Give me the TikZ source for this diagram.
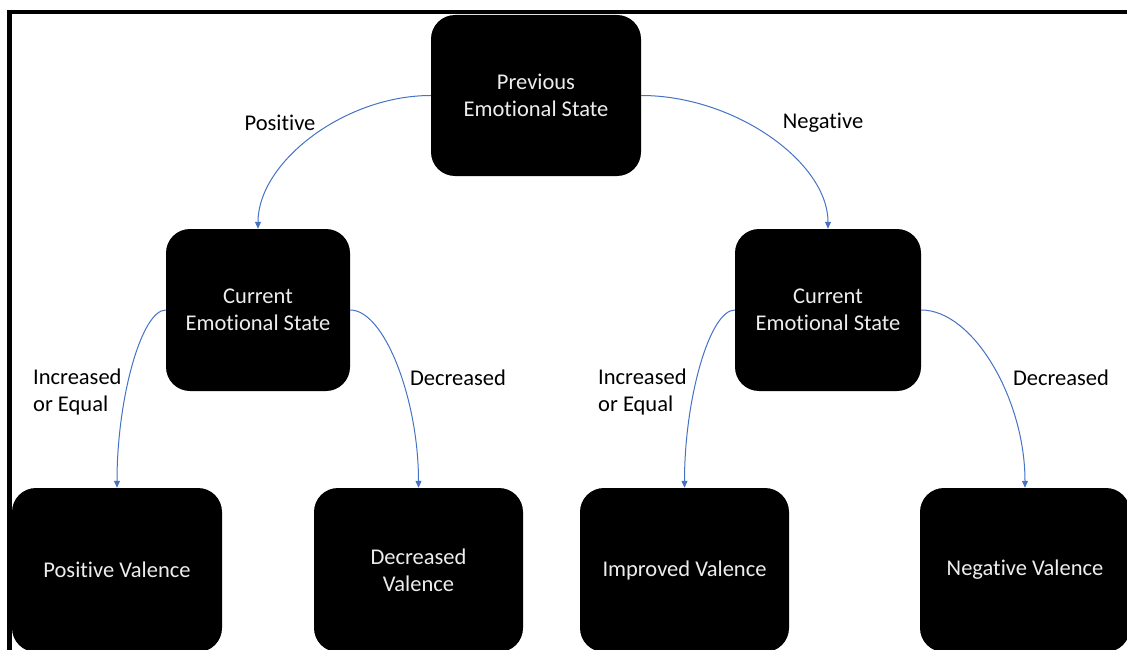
\documentclass[tikz,border=0pt]{standalone}
\usepackage{fontspec}
\setmainfont{Carlito}[Ligatures=NoCommon]
\usetikzlibrary{arrows.meta,calc}
\definecolor{conn}{HTML}{4472C4}
\begin{document}
\begin{tikzpicture}[x=1pt,y=-1pt,
  box/.style={fill=black,rounded corners=24pt,inner sep=0pt,align=center,text=white!93!black,
    font=\fontsize{22.5}{27}\selectfont},
  lbl/.style={font=\fontsize{22.5}{27}\selectfont,inner sep=0pt},
  conn/.style={draw=conn,line width=1pt,-{Triangle[length=7pt,width=6pt]}}]
\useasboundingbox (0,0) rectangle (1127,650);
\node[box,minimum width=210pt,minimum height=161pt] (prev) at (536,95.5) {Previous\\Emotional State};
\node[box,minimum width=184pt,minimum height=162pt] (cl) at (258,310) {Current\\Emotional State};
\node[box,minimum width=186pt,minimum height=162pt] (cr) at (828,310) {Current\\Emotional State};
\node[box,minimum width=210pt,minimum height=164pt] (pv) at (117,570) {Positive Valence};
\node[box,minimum width=209pt,minimum height=164pt] (dv) at (418.5,570) {Decreased\\Valence};
\node[box,minimum width=209pt,minimum height=164pt] (iv) at (684.5,570) {Improved Valence};
\node[box,minimum width=210pt,minimum height=164pt] (nv) at (1025,570) {Negative Valence};
\newcommand\curvconn[2]{%
  \draw[conn] (#1) .. controls ($(#1)!0.5!(#1 -| #2)$) and ($(#2)!0.5!(#2 |- #1)$) .. (#2);}
\curvconn{prev.west}{cl.north}
\curvconn{prev.east}{cr.north}
\curvconn{cl.west}{pv.north}
\curvconn{cl.east}{dv.north}
\curvconn{cr.west}{iv.north}
\curvconn{cr.east}{nv.north}
\node[lbl] (lp) at (280,123) {Positive};
\node[lbl] (ln) at (823,123) {Negative};
\node[lbl,anchor=west,align=left] (lie1) at (33,391.5) {Increased\\or Equal};
\node[lbl] (ld1) at (458,378) {Decreased};
\node[lbl,anchor=west,align=left] (lie2) at (598,391.5) {Increased\\or Equal};
\node[lbl] (ld2) at (1061,378) {Decreased};
\coordinate (f1) at (9.7,650);
\coordinate (f2) at (9.7,12);
\coordinate (f3) at (1127,12);
\draw[line width=4.8pt,line join=miter] (f1) -- (f2) -- (f3);
\end{tikzpicture}
\end{document}
